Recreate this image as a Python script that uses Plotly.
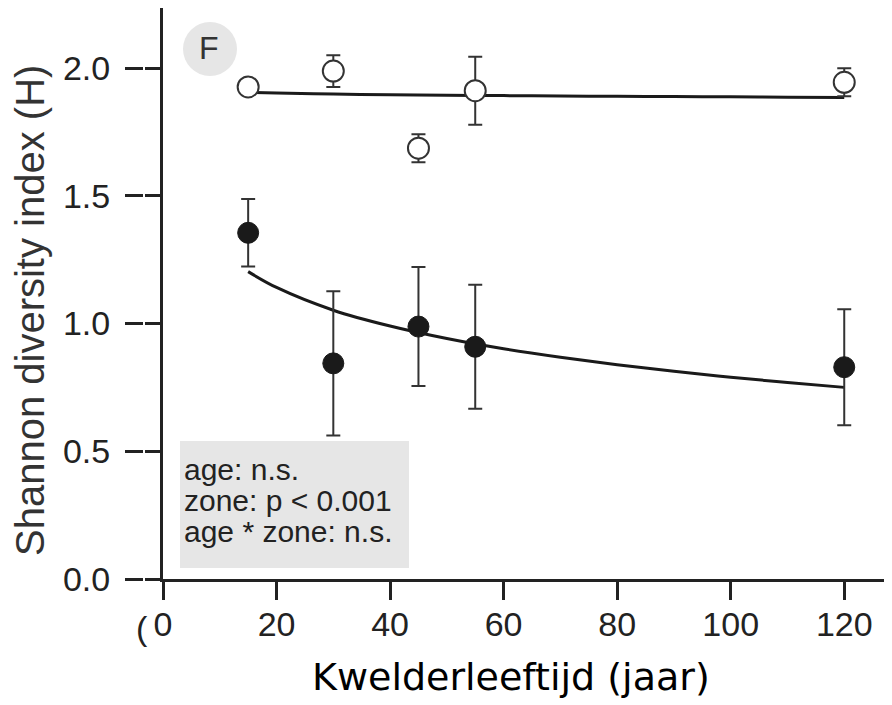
import plotly.graph_objects as go

# data
age = [15, 30, 45, 55, 120]
open_mean = [1.926, 1.988, 1.686, 1.911, 1.944]
open_se = [0.02, 0.062, 0.055, 0.133, 0.055]
filled_mean = [1.355, 0.844, 0.988, 0.909, 0.829]
filled_se = [0.132, 0.282, 0.233, 0.243, 0.227]

fit_x = [15, 20, 30, 40, 50, 60, 70, 80, 90, 100, 110, 120]
fit_open = [1.905, 1.902, 1.898, 1.895, 1.893, 1.892, 1.890, 1.889, 1.888, 1.887, 1.886, 1.885]
fit_filled = [1.203, 1.141, 1.052, 0.990, 0.941, 0.901, 0.868, 0.839, 0.813, 0.790, 0.769, 0.750]

x_ticks = [0, 20, 40, 60, 80, 100, 120]
y_ticks = [0.0, 0.5, 1.0, 1.5, 2.0]
stats_lines = ["age: n.s.", "zone: p < 0.001", "age * zone: n.s."]

# the page puts the figure 8px in from the corner
OFF = 8
W, H = 892 - OFF, 705 - OFF
# plot area in page pixels
L, R, T, B = 163, 892, OFF, 579
XSCALE, YSCALE = 5.677, 255.5


def px(x):
    return (x - L) / (R - L)


def py(y):
    return (B - y) / (B - T)


fig = go.Figure()

fig.add_trace(go.Scatter(x=fit_x, y=fit_open, mode='lines', line=dict(color='#1a1a1a', width=3, shape='spline')))
fig.add_trace(go.Scatter(x=fit_x, y=fit_filled, mode='lines', line=dict(color='#1a1a1a', width=3, shape='spline')))

fig.add_trace(go.Scatter(
    x=age, y=open_mean, mode='markers',
    error_y=dict(type='data', array=open_se, color='#333', thickness=2, width=7),
    marker=dict(size=21, color='white', line=dict(color='#333', width=2))))
fig.add_trace(go.Scatter(
    x=age, y=filled_mean, mode='markers',
    error_y=dict(type='data', array=filled_se, color='#333', thickness=2, width=7),
    marker=dict(size=21, color='#1a1a1a', line=dict(color='#1a1a1a', width=1))))

shapes = [
    # stats box
    dict(type='rect', xref='paper', yref='paper', x0=px(180), x1=px(409), y0=py(568), y1=py(441),
         fillcolor='#e6e6e6', line=dict(width=0), layer='below'),
    # panel label circle
    dict(type='circle', xref='paper', yref='paper', x0=px(183), x1=px(237), y0=py(76), y1=py(22),
         fillcolor='#e6e6e6', line=dict(width=0), layer='below'),
    # small gap in the y ticks
    dict(type='line', xref='paper', yref='paper', x0=px(144), x1=px(144), y0=py(590), y1=py(50),
         line=dict(color='white', width=2)),
]


def note(text, x, y, size, family='Liberation Sans, Arial', color='#222', **kw):
    return dict(text=text, x=px(x), y=py(y), xref='paper', yref='paper', showarrow=False,
                xanchor=kw.pop('xanchor', 'center'), yanchor='middle',
                font=dict(family=family, size=size, color=color), **kw)


annotations = [
    note('F', 209, 48, 32, color='#333'),
    note('Shannon diversity index (H)', 30, 311, 40, color='#333', textangle=-90),
    note('Kwelderleeftijd (jaar)', 511, 677, 38, family='DejaVu Sans', color='black'),
    note('(', 142, 628, 34),
]
for i, line in enumerate(stats_lines):
    annotations.append(note(line, 182, 469 + 31 * i, 30, xanchor='left'))

fig.update_layout(
    width=W, height=H,
    margin=dict(l=L - OFF, r=892 - R, t=T - OFF, b=705 - B),
    plot_bgcolor='white', paper_bgcolor='white',
    showlegend=False,
    shapes=shapes,
    annotations=annotations,
    xaxis=dict(range=[0, (R - L) / XSCALE], tickvals=x_ticks, ticks='outside', ticklen=18, tickwidth=3,
               tickcolor='#222', showline=True, linecolor='#222', linewidth=3, showgrid=False, zeroline=False,
               ticklabelstandoff=-5, tickfont=dict(family='Liberation Sans, Arial', size=34, color='#222')),
    yaxis=dict(range=[0, (B - T) / YSCALE], tickvals=y_ticks, tickformat='.1f', ticks='outside', ticklen=35,
               tickwidth=3, tickcolor='#222', showline=True, linecolor='#222', linewidth=3, showgrid=False,
               zeroline=False, ticklabelstandoff=8,
               tickfont=dict(family='Liberation Sans, Arial', size=34, color='#222')),
)

fig.write_html("out.html")
